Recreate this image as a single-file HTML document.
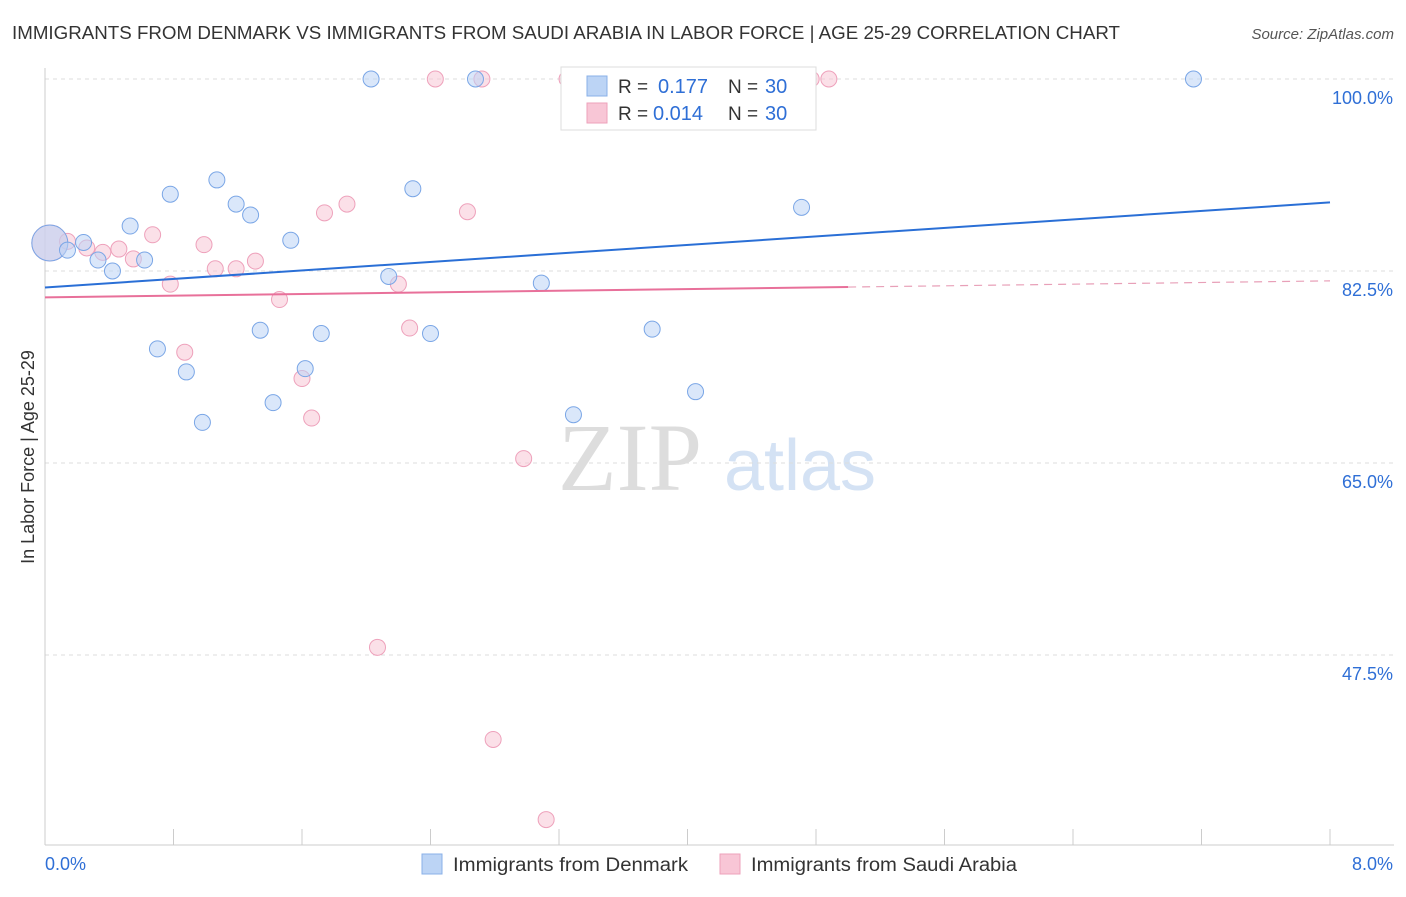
<!DOCTYPE html>
<html><head><meta charset="utf-8"><style>
body{margin:0;background:#fff;font-family:"Liberation Sans",sans-serif;}
</style></head><body>
<svg id="c" width="1406" height="892" xmlns="http://www.w3.org/2000/svg">
<text x="12" y="39" font-size="18" fill="#333" textLength="1108" lengthAdjust="spacingAndGlyphs">IMMIGRANTS FROM DENMARK VS IMMIGRANTS FROM SAUDI ARABIA IN LABOR FORCE | AGE 25-29 CORRELATION CHART</text>
<text x="1394" y="39" font-size="15" fill="#555" font-style="italic" text-anchor="end">Source: ZipAtlas.com</text>
<text x="630" y="490" font-size="96" fill="#ddd" font-family="Liberation Serif,serif" text-anchor="middle">ZIP</text>
<text x="800" y="490" font-size="72" fill="#d4e2f4" text-anchor="middle">atlas</text>
<text transform="translate(34,457) rotate(-90)" font-size="18" fill="#333" text-anchor="middle">In Labor Force | Age 25-29</text>
<g id="grid"></g><g id="marks"></g>
<g>
<rect x="561" y="67" width="255" height="63" fill="#fff" stroke="#ddd"/>
<rect x="587" y="76" width="20" height="20" fill="#bcd4f5" stroke="#8ab0e8"/>
<rect x="587" y="103" width="20" height="20" fill="#f8c6d6" stroke="#eea1bb"/>
<text x="618" y="93" font-size="19" fill="#333">R =</text>
<text x="658" y="93" font-size="20" fill="#2f6fd6">0.177</text>
<text x="728" y="93" font-size="19" fill="#333">N =</text>
<text x="765" y="93" font-size="20" fill="#2f6fd6">30</text>
<text x="618" y="120" font-size="19" fill="#333">R =</text>
<text x="653" y="120" font-size="20" fill="#2f6fd6">0.014</text>
<text x="728" y="120" font-size="19" fill="#333">N =</text>
<text x="765" y="120" font-size="20" fill="#2f6fd6">30</text>
</g>
<g>
<rect x="422" y="854" width="20" height="20" fill="#bcd4f5" stroke="#8ab0e8"/>
<text x="453" y="871" font-size="19" fill="#333" textLength="235" lengthAdjust="spacingAndGlyphs">Immigrants from Denmark</text>
<rect x="720" y="854" width="20" height="20" fill="#f8c6d6" stroke="#eea1bb"/>
<text x="751" y="871" font-size="19" fill="#333" textLength="266" lengthAdjust="spacingAndGlyphs">Immigrants from Saudi Arabia</text>
</g>
</svg>
<script>
const yTicks=[100,82.5,65,47.5];
const yTickLabels=["100.0%","82.5%","65.0%","47.5%"];
const xTicks=[0,0.8,1.6,2.4,3.2,4,4.8,5.6,6.4,7.2,8];
const xEndLabels=["0.0%","8.0%"];
const denX=[0.03,0.14,0.24,0.33,0.42,0.53,0.62,0.70,0.78,0.88,0.98,1.07,1.19,1.28,1.34,1.42,1.53,1.62,1.72,2.03,2.14,2.29,2.40,2.68,3.09,3.29,3.78,4.05,4.71,7.15];
const denY=[85.05,84.4,85.1,83.5,82.5,86.6,83.5,75.4,89.5,73.3,68.7,90.8,88.6,87.6,77.1,70.5,85.3,73.6,76.8,100,82.0,90.0,76.8,100,81.4,69.4,77.2,71.5,88.3,100];
const sauX=[0.03,0.14,0.26,0.36,0.46,0.55,0.67,0.78,0.87,0.99,1.06,1.19,1.31,1.46,1.60,1.66,1.74,1.88,2.07,2.20,2.27,2.43,2.63,2.72,2.79,2.98,3.12,3.25,4.77,4.88];
const sauY=[85.05,85.2,84.6,84.2,84.5,83.6,85.8,81.3,75.1,84.9,82.7,82.7,83.4,79.9,72.7,69.1,87.8,88.6,48.2,81.3,77.3,100,87.9,100,39.8,65.4,32.5,100,100,100];
const denTrend=[81.0,88.75];
const sauTrend=[80.1,81.6];
const sauSolidEnd=5.0;
const X=v=>45+v*(1285/8), Y=v=>79+(100-v)*(192/17.5);
const NS="http://www.w3.org/2000/svg";
function mk(p,t,a){const e=document.createElementNS(NS,t);for(const k in a)e.setAttribute(k,a[k]);p.appendChild(e);return e;}
const g=document.getElementById('grid'),m=document.getElementById('marks');
yTicks.forEach((t,i)=>{
 const l=mk(g,'line',{x1:45,x2:1394,y1:Y(t),y2:Y(t),stroke:'#ddd','stroke-dasharray':'4,4'});
 
 
 const tx=mk(g,'text',{x:1393,y:Y(t)+25,'font-size':18,fill:'#2f6fd6','text-anchor':'end'});
 tx.textContent=yTickLabels[i];
 
 
});
const ax=mk(g,'line',{x1:45,x2:45,y1:68,y2:845,stroke:'#ccc'});


const bx=mk(g,'line',{x1:45,x2:1394,y1:845,y2:845,stroke:'#ccc'});


xTicks.forEach(t=>{const l=mk(g,'line',{x1:X(t),x2:X(t),y1:829,y2:845,stroke:'#ccc'});
 
 });
[[0,'start',45],[8,'end',1393]].forEach((d,i)=>{const tx=mk(g,'text',{x:d[2],y:870,'font-size':18,fill:'#2f6fd6','text-anchor':d[1]});tx.textContent=xEndLabels[i];
 
 });
function pts(xs,ys,fill,stroke,name){xs.forEach((x,i)=>{const big=i===0;
 const c=mk(m,'circle',{cx:X(x),cy:Y(ys[i]),r:big?18:8,fill:fill,'fill-opacity':big?0.6:0.55,stroke:stroke,'stroke-width':1});
 
 });}
pts(sauX,sauY,'#f8c6d6','#eea1bb','point-saudi');
pts(denX,denY,'#bcd4f5','#7aa6e6','point-denmark');
const lt=v=>sauTrend[0]+(sauTrend[1]-sauTrend[0])*v/8;
const s1=mk(m,'line',{x1:X(0),y1:Y(lt(0)),x2:X(sauSolidEnd),y2:Y(lt(sauSolidEnd)),stroke:'#e8709a','stroke-width':2});


const s2=mk(m,'line',{x1:X(sauSolidEnd),y1:Y(lt(sauSolidEnd)),x2:X(8),y2:Y(lt(8)),stroke:'#e8a0b8','stroke-width':1.2,'stroke-dasharray':'8,6'});


const d1=mk(m,'line',{x1:X(0),y1:Y(denTrend[0]),x2:X(8),y2:Y(denTrend[1]),stroke:'#2a6fd6','stroke-width':2});


</script>
</body></html>
